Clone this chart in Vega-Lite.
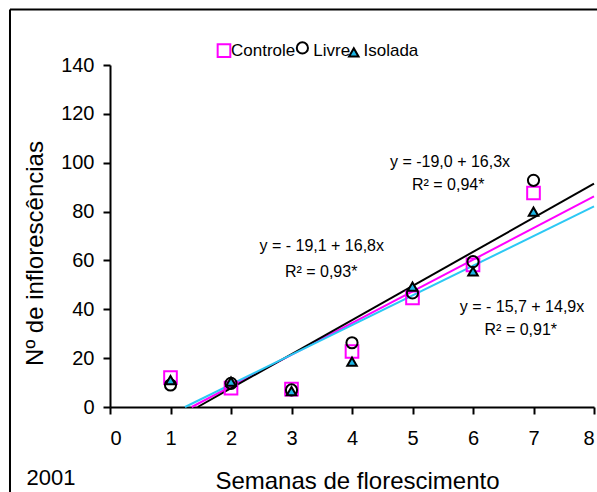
{
  "$schema": "https://vega.github.io/schema/vega-lite/v6.json",
  "width": 484,
  "height": 342,
  "autosize": {"type": "none"},
  "padding": {"left": 110, "top": 65, "right": 3, "bottom": 85},
  "background": "white",
  "config": {
    "view": {"stroke": null},
    "font": "Liberation Sans",
    "axis": {"labelFont": "Liberation Sans", "titleFont": "Liberation Sans", "labelColor": "black", "titleColor": "black", "domainColor": "black", "tickColor": "black", "domainWidth": 2, "tickWidth": 2, "tickSize": 7, "grid": false, "labelFontSize": 20, "titleFontSize": 24, "titleFontWeight": "normal"}
  },
  "datasets": {
    "pontos": [
      {"serie": "Controle", "semana": 1, "n": 12},
      {"serie": "Controle", "semana": 2, "n": 7.7},
      {"serie": "Controle", "semana": 3, "n": 7.3},
      {"serie": "Controle", "semana": 4, "n": 22.7},
      {"serie": "Controle", "semana": 5, "n": 44.7},
      {"serie": "Controle", "semana": 6, "n": 58.2},
      {"serie": "Controle", "semana": 7, "n": 87.6},
      {"serie": "Livre", "semana": 1, "n": 9},
      {"serie": "Livre", "semana": 2, "n": 9.7},
      {"serie": "Livre", "semana": 3, "n": 7},
      {"serie": "Livre", "semana": 4, "n": 26.3},
      {"serie": "Livre", "semana": 5, "n": 46.7},
      {"serie": "Livre", "semana": 6, "n": 59.5},
      {"serie": "Livre", "semana": 7, "n": 92.8},
      {"serie": "Isolada", "semana": 1, "n": 11},
      {"serie": "Isolada", "semana": 2, "n": 10.4},
      {"serie": "Isolada", "semana": 3, "n": 6.5},
      {"serie": "Isolada", "semana": 4, "n": 18.6},
      {"serie": "Isolada", "semana": 5, "n": 49.3},
      {"serie": "Isolada", "semana": 6, "n": 55.5},
      {"serie": "Isolada", "semana": 7, "n": 80}
    ],
    "retas": [
      {"curva": "Controle", "semana": 1.35, "n": 0},
      {"curva": "Controle", "semana": 8, "n": 86.2},
      {"curva": "Livre", "semana": 1.45, "n": 0},
      {"curva": "Livre", "semana": 8, "n": 91.4},
      {"curva": "Isolada", "semana": 1.24, "n": 0},
      {"curva": "Isolada", "semana": 8, "n": 82.1}
    ],
    "legenda": [
      {"serie": "Controle", "semana": 1.884, "n": 145.9, "tn": 145.9, "tx": 2.0},
      {"serie": "Livre", "semana": 3.18, "n": 147.0, "tn": 145.9, "tx": 3.36},
      {"serie": "Isolada", "semana": 4.03, "n": 145.2, "tn": 145.9, "tx": 4.19}
    ],
    "notas": [
      {"x": 5.62, "y": 100.4, "label": "y = -19,0 + 16,3x"},
      {"x": 5.59, "y": 91.0, "label": "R² = 0,94*"},
      {"x": 3.5, "y": 66.0, "label": "y = - 19,1 + 16,8x"},
      {"x": 3.49, "y": 55.3, "label": "R² = 0,93*"},
      {"x": 6.81, "y": 41.0, "label": "y = - 15,7 + 14,9x"},
      {"x": 6.79, "y": 31.6, "label": "R² = 0,91*"}
    ]
  },
  "layer": [
    {
      "data": {"values": [{"x": -1.653, "y": 162.7, "y2": -40}]},
      "mark": {"type": "rule", "color": "black", "strokeWidth": 2},
      "encoding": {
        "x": {"field": "x", "type": "quantitative", "scale": {"domain": [0, 8], "nice": false}},
        "y": {"field": "y", "type": "quantitative"},
        "y2": {"field": "y2"}
      }
    },
    {
      "data": {"values": [{"x": -1.653, "x2": 8.6, "y": 162.7}]},
      "mark": {"type": "rule", "color": "black", "strokeWidth": 2},
      "encoding": {
        "x": {"field": "x", "type": "quantitative"},
        "x2": {"field": "x2"},
        "y": {"field": "y", "type": "quantitative"}
      }
    },
    {
      "data": {"values": [{"x": -0.975, "y": -29.1, "label": "2001"}]},
      "mark": {"type": "text", "fontSize": 22, "font": "Liberation Sans", "color": "black", "baseline": "middle"},
      "encoding": {
        "x": {"field": "x", "type": "quantitative"},
        "y": {"field": "y", "type": "quantitative"},
        "text": {"field": "label"}
      }
    },
    {
      "data": {"name": "retas"},
      "mark": {"type": "line", "strokeWidth": 2},
      "encoding": {
        "x": {"field": "semana", "type": "quantitative"},
        "y": {"field": "n", "type": "quantitative"},
        "detail": {"field": "curva"},
        "color": {"field": "curva", "type": "nominal", "legend": null, "scale": {"domain": ["Controle", "Livre", "Isolada"], "range": ["#FF00FF", "#000000", "#2CC8F4"]}}
      }
    },
    {
      "data": {"name": "pontos"},
      "mark": {"type": "point", "opacity": 1},
      "encoding": {
        "x": {
          "field": "semana", "type": "quantitative",
          "scale": {"domain": [0, 8], "nice": false, "zero": false},
          "axis": {"values": [0, 1, 2, 3, 4, 5, 6, 7, 8], "format": "d", "title": "Semanas de florescimento", "labelPadding": 14, "titleX": 247, "titleY": 81, "titleBaseline": "alphabetic", "titleAnchor": "middle"}
        },
        "y": {
          "field": "n", "type": "quantitative",
          "scale": {"domain": [0, 140], "nice": false},
          "axis": {"values": [0, 20, 40, 60, 80, 100, 120, 140], "format": "d", "title": "Nº de inflorescências", "labelPadding": 9, "titleX": -68, "titleY": 188, "titleBaseline": "alphabetic", "titleAngle": 270, "titleAnchor": "middle"}
        },
        "shape": {"field": "serie", "type": "nominal", "legend": null, "scale": {"domain": ["Controle", "Livre", "Isolada"], "range": ["square", "circle", "triangle-up"]}},
        "stroke": {"field": "serie", "type": "nominal", "legend": null, "scale": {"domain": ["Controle", "Livre", "Isolada"], "range": ["#FF00FF", "#000000", "#000000"]}},
        "fill": {"field": "serie", "type": "nominal", "legend": null, "scale": {"domain": ["Controle", "Livre", "Isolada"], "range": ["transparent", "transparent", "#1CB6E6"]}},
        "size": {"field": "serie", "type": "nominal", "legend": null, "scale": {"domain": ["Controle", "Livre", "Isolada"], "range": [160, 90, 150]}},
        "strokeWidth": {"field": "serie", "type": "nominal", "legend": null, "scale": {"domain": ["Controle", "Livre", "Isolada"], "range": [2, 2, 1.1]}}
      }
    },
    {
      "data": {"name": "legenda"},
      "mark": {"type": "point", "opacity": 1},
      "encoding": {
        "x": {"field": "semana", "type": "quantitative"},
        "y": {"field": "n", "type": "quantitative"},
        "shape": {"field": "serie", "type": "nominal", "legend": null},
        "stroke": {"field": "serie", "type": "nominal", "legend": null},
        "fill": {"field": "serie", "type": "nominal", "legend": null},
        "size": {"field": "serie", "type": "nominal", "legend": null},
        "strokeWidth": {"field": "serie", "type": "nominal", "legend": null}
      }
    },
    {
      "data": {"name": "legenda"},
      "mark": {"type": "text", "fontSize": 17, "font": "Liberation Sans", "color": "black", "baseline": "middle", "align": "left"},
      "encoding": {
        "x": {"field": "tx", "type": "quantitative"},
        "y": {"field": "tn", "type": "quantitative"},
        "text": {"field": "serie"}
      }
    },
    {
      "data": {"name": "notas"},
      "mark": {"type": "text", "fontSize": 16, "font": "Liberation Sans", "color": "black", "baseline": "middle", "align": "center"},
      "encoding": {
        "x": {"field": "x", "type": "quantitative"},
        "y": {"field": "y", "type": "quantitative"},
        "text": {"field": "label"}
      }
    }
  ]
}
